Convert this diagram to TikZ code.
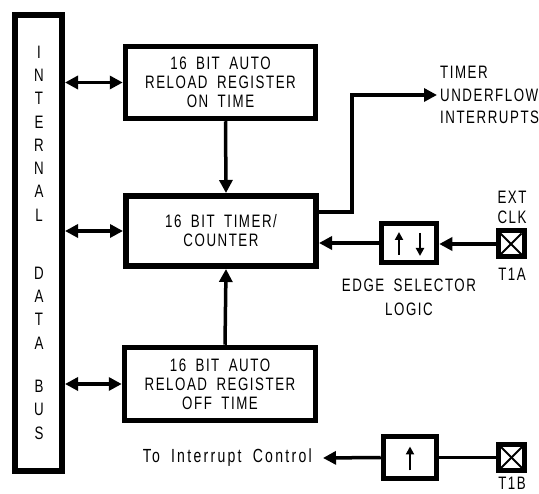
\documentclass[tikz,border=0pt]{standalone}
\usepackage{fontspec}
\setmainfont{Liberation Sans}[FakeStretch=0.74,LetterSpace=8.5,WordSpace=1.8]
\usetikzlibrary{arrows.meta,calc}
\newcommand\dlbl{\fontsize{18}{19}\selectfont}
\begin{document}
\begin{tikzpicture}[x=1pt,y=-1pt,
  blk/.style={draw, line width=5.5pt, inner sep=0pt, align=center, font=\dlbl},
  pinbox/.style={draw, line width=5pt, minimum size=26pt, inner sep=0pt},
  conn/.style={line width=3.5pt},
  tipend/.style={-{Triangle[length=13pt,width=13pt]}},
  bidir/.style={{Triangle[length=13pt,width=13pt]}-{Triangle[length=13pt,width=13pt]}},
  smallarrow/.style={line width=2.5pt, -{Triangle[length=8pt,width=8pt]}},
  txt/.style={inner sep=0pt, align=center, font=\dlbl}]
\useasboundingbox (0,0) rectangle (539,494);
% bus
\node[draw, line width=6pt, minimum width=47pt, minimum height=456pt, inner sep=0pt] (bus) at (38.5,243) {};
\node[txt, font=\fontsize{18}{23.3}\selectfont] (internal) at (39,133.5) {I\\N\\T\\E\\R\\N\\A\\L};
\node[txt, font=\fontsize{18}{23.3}\selectfont] (data) at (39,308) {D\\A\\T\\A};
\node[txt, font=\fontsize{18}{23.5}\selectfont] (busl) at (39,409.5) {B\\U\\S};
% blocks
\node[blk, minimum width=190pt, minimum height=72pt] (reg1) at (220.5,82.5) {16 BIT AUTO\\RELOAD REGISTER\\ON TIME};
\node[blk, line width=6pt, minimum width=190pt, minimum height=70pt] (timer) at (221,231) {16 BIT TIMER/\\COUNTER};
\node[blk, minimum width=191pt, minimum height=73pt] (reg2) at (220,384) {16 BIT AUTO\\RELOAD REGISTER\\OFF TIME};
\node[blk, minimum width=55pt, minimum height=39pt] (esl) at (409,243) {};
\node[blk, minimum width=53pt, minimum height=42pt] (eb) at (410,457.5) {};
\node[pinbox] (t1a) at (511,244) {};
\node[pinbox] (t1b) at (511.5,457.5) {};
% pin crosses
\foreach \p in {t1a,t1b}{
  \draw[line width=2pt] ($(\p.center)+(-10.5,-10.5)$) -- ($(\p.center)+(10.5,10.5)$);
  \draw[line width=2pt] ($(\p.center)+(-10.5,10.5)$) -- ($(\p.center)+(10.5,-10.5)$);
}
% edge arrows
\draw[smallarrow] ($(esl.center)+(-10,12)$) -- ($(esl.center)+(-10,-11)$);
\draw[smallarrow] ($(esl.center)+(11,-10)$) -- ($(esl.center)+(11,13)$);
\draw[smallarrow] ($(eb.center)+(0,13)$) -- ($(eb.center)+(0,-11)$);
% labels
\node[txt, font=\fontsize{18}{20}\selectfont] (ext) at (512,207) {EXT\\CLK};
\node[txt] (t1alab) at (512,274) {T1A};
\node[txt] (t1blab) at (512,483.5) {T1B};
\node[txt, font=\fontsize{18}{24}\selectfont] (esllab) at (409,297) {EDGE SELECTOR\\LOGIC};
\node[txt, anchor=west, align=left, inner xsep=3pt, font=\fontsize{18}{22.5}\selectfont] (ufl) at (437,95) {TIMER\\UNDERFLOW\\INTERRUPTS};
\node[txt, anchor=east, font=\fontsize{19}{19}\selectfont\addfontfeature{LetterSpace=12}] (tic) at (312,458) {To Interrupt Control};
% connectors
\draw[conn, bidir] (bus.east |- reg1.west) -- (reg1.west);
\draw[conn, bidir] (bus.east |- timer.west) -- (timer.west);
\draw[conn, bidir] (bus.east |- reg2.west) -- (reg2.west);
\draw[conn, tipend] ([xshift=5pt]reg1.south) -- ([xshift=5pt]timer.north);
\draw[conn, tipend] ([xshift=5pt]reg2.north) -- ([xshift=5pt]timer.south);
\coordinate (ufc) at (352,95);
\draw[conn, tipend] ([yshift=19pt]timer.east) -| (ufc) -- (ufl.west);
\draw[conn, tipend] (esl.west) -- (timer.east |- esl.west);
\draw[conn, tipend] (t1a.west) -- (esl.east |- t1a.west);
\draw[conn] (t1b.west) -- (eb.east |- t1b.west);
\draw[conn, tipend] (eb.west) -- ([xshift=11pt]tic.east);
\end{tikzpicture}
\end{document}
